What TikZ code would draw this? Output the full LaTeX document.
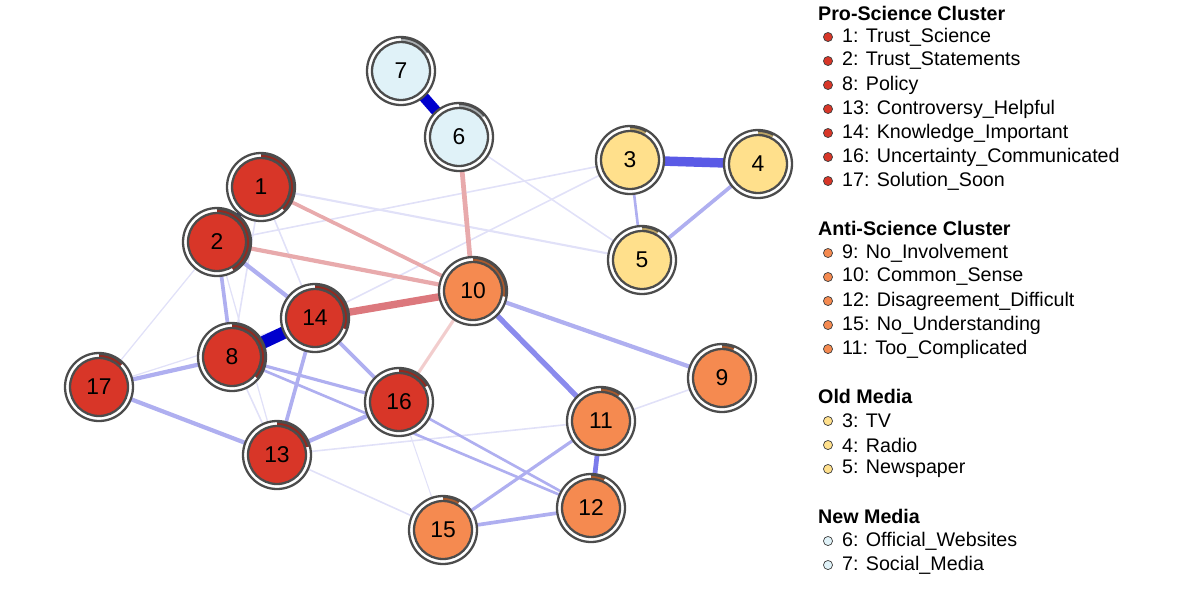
\documentclass[tikz,border=0pt]{standalone}
\usepackage{fontspec}
\setmainfont{Liberation Sans}
\definecolor{cb1}{RGB}{0,0,205}
\definecolor{cb2}{RGB}{90,90,230}
\definecolor{cb3}{RGB}{175,175,240}
\definecolor{cb4}{RGB}{225,225,248}
\definecolor{cr1}{RGB}{220,120,125}
\definecolor{cr2}{RGB}{232,170,172}
\definecolor{cr3}{RGB}{242,205,205}
\definecolor{pro}{RGB}{216,54,40}
\definecolor{prod}{RGB}{150,40,30}
\definecolor{anti}{RGB}{245,138,80}
\definecolor{antid}{RGB}{170,90,45}
\definecolor{old}{RGB}{255,224,140}
\definecolor{oldd}{RGB}{190,165,100}
\definecolor{new}{RGB}{224,242,248}
\definecolor{newd}{RGB}{170,175,178}
\begin{document}
\begin{tikzpicture}[x=0.02cm,y=-0.02cm,
 e/.style={line width=#1*0.6pt},
 b1/.style={draw=cb1}, b2/.style={draw=cb2}, b3/.style={draw=cb3}, b4/.style={draw=cb4},
 r1/.style={draw=cr1}, r2/.style={draw=cr2}, r3/.style={draw=cr3},
 lab/.style={font=\fontsize{11.2pt}{13pt}\selectfont, anchor=west},
 ttl/.style={font=\bfseries\fontsize{11.2pt}{13pt}\selectfont, anchor=west},
 dot/.style={circle, inner sep=0pt, minimum size=5.2pt, draw=black!75, line width=0.4pt}
]
\useasboundingbox (0,0) rectangle (1200,600);
\coordinate (c7) at (401,71); \coordinate (c6) at (459,137);
\coordinate (c1) at (261,187); \coordinate (c2) at (217,242);
\coordinate (c3) at (630,160); \coordinate (c4) at (758,164);
\coordinate (c5) at (642,260); \coordinate (c10) at (473,291);
\coordinate (c14) at (315,318); \coordinate (c8) at (232,357);
\coordinate (c17) at (99,387); \coordinate (c16) at (399,402);
\coordinate (c9) at (722,378); \coordinate (c11) at (601,421);
\coordinate (c13) at (277,455); \coordinate (c12) at (591,508);
\coordinate (c15) at (443,530);
% faint edges
\draw[b4,e=1.5] (c2)--(c3); \draw[b4,e=1.5] (c14)--(c3); \draw[b4,e=2] (c1)--(c5);
\draw[b4,e=1.5] (c6)--(c5); \draw[b4,e=1.2] (c17)--(c2); \draw[b4,e=1.2] (c17)--(c14);
\draw[b4,e=1.5] (c1)--(c8); \draw[b4,e=1.5] (c8)--(c13); \draw[b4,e=1.5] (c13)--(c11);
\draw[b4,e=1.5] (c13)--(c15); \draw[b4,e=1] (c16)--(c15); \draw[b4,e=1.5] (c11)--(c9);
\draw[b4,e=1.5] (c1)--(c14); \draw[b4,e=1.2] (c2)--(c13);
% medium edges
\draw[b3,e=2.5] (c3)--(c5); \draw[b3,e=3.5] (c4)--(c5);
\draw[b3,e=3] (c11)--(c15); \draw[b3,e=3.5] (c12)--(c15);
\draw[b3,e=3] (c8)--(c16); \draw[b3,e=2.5] (c8)--(c12); \draw[b3,e=2.5] (c16)--(c12);
\draw[b3,e=4] (c17)--(c8); \draw[b3,e=4] (c17)--(c13);
\draw[b3,e=4] (c13)--(c16); \draw[b3,e=3.5] (c13)--(c14); \draw[b3,e=3.5] (c14)--(c16);
\draw[b3,e=3.5] (c2)--(c8); \draw[b3,e=4] (c2)--(c14);
\draw[b3,e=4] (c10)--(c9); \draw[draw=cb2!70!white,e=5] (c10)--(c11);
\draw[draw=cb2!80!white,e=4.5] (c11)--(c12);
\draw[r2,e=3.5] (c1)--(c10); \draw[r2,e=4] (c2)--(c10); \draw[r3,e=3] (c10)--(c16);
\draw[r2,e=4.5] (c6)--(c10); \draw[r1,e=7] (c14)--(c10);
\draw[b1,e=5] (c1)--(c2);
\draw[b1,e=10] (c7)--(c6); \draw[b2,e=9] (c3)--(c4); \draw[b1,e=12] (c8)--(c14);
% nodes
\foreach \n/\col/\dk/\ang in {7/new/newd/55,6/new/newd/50,1/pro/prod/135,2/pro/prod/150,3/old/oldd/30,4/old/oldd/28,5/old/oldd/30,10/anti/antid/100,14/pro/prod/110,8/pro/prod/130,17/pro/prod/45,16/pro/prod/60,9/anti/antid/22,11/anti/antid/35,13/pro/prod/75,12/anti/antid/25,15/anti/antid/30}{
 \filldraw[fill=white,draw=black!70,line width=1.3] (c\n) circle[radius=34];
 \fill[\dk] ([shift={(-90:33)}]c\n) arc[start angle=-90,end angle=-90+\ang,radius=33] -- ([shift={(-90+\ang:29.5)}]c\n) arc[start angle=-90+\ang,end angle=-90,radius=29.5] -- cycle;
 \draw[black!70,line width=1.1] ([shift={(-90:33)}]c\n) arc[start angle=-90,end angle=-90+\ang,radius=33];
 \node[circle,fill=\col,draw=black!70,line width=1.3,minimum size=33pt,inner sep=0pt,
   font=\fontsize{13pt}{15pt}\selectfont] (N\n) at (c\n) {\n};
}
% legend
\node[ttl] (t1) at (812,13) {Pro-Science Cluster};
\node[ttl] (t2) at (812,228) {Anti-Science Cluster};
\node[ttl] (t3) at (812,396) {Old Media};
\node[ttl] (t4) at (812,516) {New Media};
\foreach \y/\t/\c [count=\i] in {37/1: Trust\_Science/pro,61/2: Trust\_Statements/pro,85/8: Policy/pro,109/13: Controversy\_Helpful/pro,133/14: Knowledge\_Important/pro,157/16: Uncertainty\_Communicated/pro,181/17: Solution\_Soon/pro,253/9: No\_Involvement/anti,277/10: Common\_Sense/anti,301/12: Disagreement\_Difficult/anti,325/15: No\_Understanding/anti,349/11: Too\_Complicated/anti,421/3: TV/old,445/4: Radio/old,469/5: Newspaper/old,541/6: Official\_Websites/new,565/7: Social\_Media/new}{
 \node[dot,fill=\c] (d\i) at (828,\y) {};
 \node[lab] (l\i) at (836,\y) {\t};
}
\end{tikzpicture}
\end{document}
